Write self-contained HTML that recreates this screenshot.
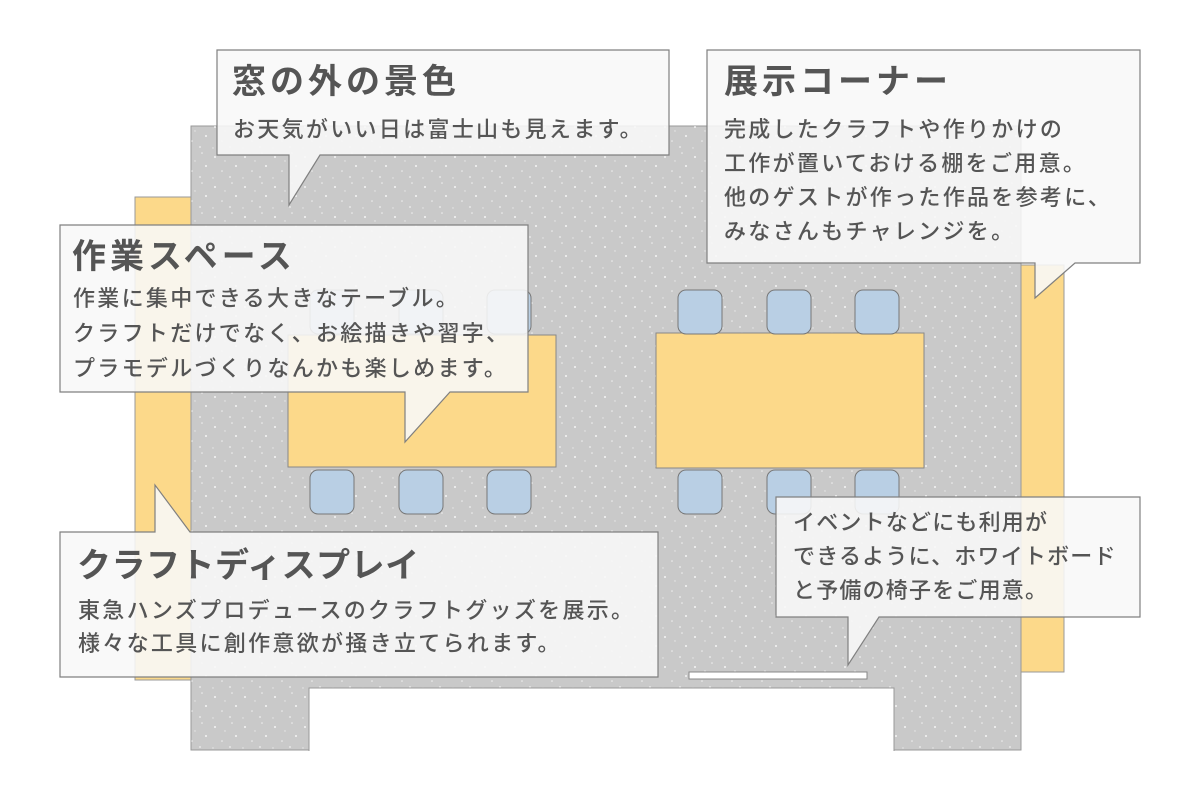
<!DOCTYPE html>
<html><head><meta charset="utf-8"><style>
body{margin:0;width:1200px;height:800px;background:#fff;position:relative;overflow:hidden;font-family:"Liberation Sans","Noto Sans CJK JP",sans-serif;color:#555}
.t{position:absolute;white-space:nowrap}
.h{font-size:34px;font-weight:bold;letter-spacing:4px;line-height:40px}
.b{font-size:22px;font-weight:500;letter-spacing:2.3px;line-height:34px}
</style></head><body>
<svg width="1200" height="800" style="position:absolute;left:0;top:0">
<defs>
<pattern id="sp" width="30" height="30" patternUnits="userSpaceOnUse">
<circle cx="5" cy="7" r="1" fill="#fff" opacity=".8"/><circle cx="22" cy="3" r="0.8" fill="#fff" opacity=".7"/>
<circle cx="26" cy="16" r="1" fill="#fff" opacity=".8"/><circle cx="12" cy="21" r="0.8" fill="#fff" opacity=".7"/>
<circle cx="20" cy="27" r="0.9" fill="#fff" opacity=".7"/><circle cx="3" cy="28" r="0.7" fill="#fff" opacity=".6"/>
<circle cx="15" cy="11" r="0.7" fill="#fff" opacity=".6"/>
</pattern>
</defs>
<rect x="135" y="197" width="56" height="483" fill="#fcd98a" stroke="#999"/>
<rect x="1021" y="265" width="43" height="407" fill="#fcd98a" stroke="#999"/>
<rect x="191" y="126" width="830" height="624" fill="#c9c9c9" stroke="#999"/>
<rect x="191" y="126" width="830" height="624" fill="url(#sp)"/>
<path d="M309,751 V688 H894 V751 Z" fill="#fff"/>
<path d="M309,751 V688 H894 V751" fill="none" stroke="#999"/>
<rect x="689" y="672" width="178" height="7" fill="#fff" stroke="#888"/>
<rect x="288" y="335" width="268" height="132" fill="#fcd98a" stroke="#888"/>
<rect x="656" y="333" width="268" height="135" fill="#fcd98a" stroke="#888"/>
<g fill="#b9cfe4" stroke="#777">
<rect x="310" y="470" width="44" height="44" rx="8"/><rect x="399" y="470" width="44" height="44" rx="8"/><rect x="487" y="470" width="44" height="44" rx="8"/>
<rect x="310" y="290" width="44" height="44" rx="8"/><rect x="399" y="290" width="44" height="44" rx="8"/><rect x="487" y="290" width="44" height="44" rx="8"/>
<rect x="678" y="290" width="44" height="44" rx="8"/><rect x="767" y="290" width="44" height="44" rx="8"/><rect x="855" y="290" width="44" height="44" rx="8"/>
<rect x="678" y="470" width="44" height="44" rx="8"/><rect x="767" y="470" width="44" height="44" rx="8"/><rect x="855" y="470" width="44" height="44" rx="8"/>
</g>
<g fill="rgba(248,248,248,0.88)" stroke="#808080" stroke-width="1.2">
<path d="M217,50 H669 V155 H320 L289,205 V155 H217 Z"/>
<path d="M707,50 H1140 V263 H1075 L1035,298 V263 H707 Z"/>
<path d="M60,225 H528 V392 H450 L405,442 V392 H60 Z"/>
<path d="M60,532 H155 V485 L190,532 H658 V677 H60 Z"/>
<path d="M776,497 H1140 V617 H879 L848,665 V617 H776 Z"/>
</g>
</svg>
<div class="t h" style="left:232px;top:62px">窓の外の景色</div>
<div class="t b" style="left:233px;top:113px">お天気がいい日は富士山も見えます。</div>
<div class="t h" style="left:724px;top:62px">展示コーナー</div>
<div class="t b" style="left:724px;top:113px">完成したクラフトや作りかけの</div>
<div class="t b" style="left:724px;top:147px">工作が置いておける棚をご用意。</div>
<div class="t b" style="left:724px;top:181px">他のゲストが作った作品を参考に、</div>
<div class="t b" style="left:724px;top:215px">みなさんもチャレンジを。</div>
<div class="t h" style="left:72px;top:237px">作業スペース</div>
<div class="t b" style="left:73px;top:282px">作業に集中できる大きなテーブル。</div>
<div class="t b" style="left:73px;top:317px">クラフトだけでなく、お絵描きや習字、</div>
<div class="t b" style="left:73px;top:352px">プラモデルづくりなんかも楽しめます。</div>
<div class="t h" style="left:77px;top:546px;letter-spacing:0.5px">クラフトディスプレイ</div>
<div class="t b" style="left:78px;top:594px">東急ハンズプロデュースのクラフトグッズを展示。</div>
<div class="t b" style="left:78px;top:627px">様々な工具に創作意欲が掻き立てられます。</div>
<div class="t b" style="left:793px;top:506px;letter-spacing:1.2px">イベントなどにも利用が</div>
<div class="t b" style="left:793px;top:540px;letter-spacing:1.2px">できるように、ホワイトボード</div>
<div class="t b" style="left:793px;top:574px;letter-spacing:1.2px">と予備の椅子をご用意。</div>
</body></html>
